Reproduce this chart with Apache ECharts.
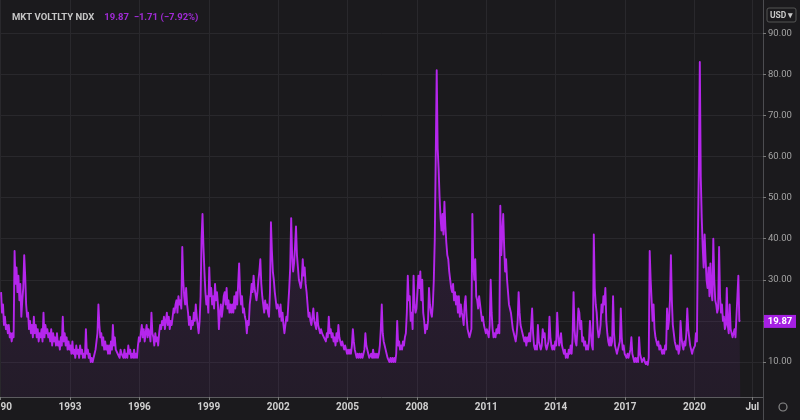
<!DOCTYPE html>
<html><head><meta charset="utf-8">
<script src="https://cdn.jsdelivr.net/npm/echarts@6/dist/echarts.min.js"></script>
<style>html,body{margin:0;padding:0;background:#1b1a1d;}#c{width:800px;height:420px;}</style>
</head><body><div id="c"></div>
<script>
// ---- data (semi-monthly readings, 24 per year) ----
const startYear = 1990;
const pointsPerYear = 24;

const vol1990s = [
  27,22,24,19,21,18,19,17,19,16,17,15,17,16,37,29,33,27,31,25,29,21,25,28, // 1990
  36,31,24,21,22,18,20,17,19,16,21,17,19,16,18,15,17,16,18,15,22,16,19,17, // 1991
  18,16,17,15,18,14,17,15,16,14,17,14,15,13,16,14,21,15,17,14,16,13,15,13, // 1992
  14,12,15,12,13,11,14,12,13,11,14,12,13,11,12,11,18,12,13,11,12,10,11,10, // 1993
  11,12,13,15,17,24,19,16,17,14,16,13,15,13,14,12,14,12,15,13,19,14,16,13, // 1994
  13,12,12,11,13,12,12,11,13,11,12,11,14,12,13,11,12,11,13,11,12,11,14,16, // 1995
  15,17,19,16,18,15,17,19,16,18,17,15,22,17,16,14,17,15,16,14,17,19,18,20, // 1996
  19,21,18,20,22,19,21,18,20,19,21,23,22,24,25,22,26,24,25,23,38,30,26,24, // 1997
  28,24,22,19,21,18,20,19,22,20,24,21,19,17,20,26,40,46,38,32,27,24,26,22, // 1998
  33,26,28,24,26,23,29,25,27,24,18,22,24,21,23,26,27,24,28,23,25,22,24,22  // 1999
];
const vol2000s = [
  24,22,26,23,27,24,29,34,27,24,26,22,23,21,20,17,20,19,24,26,29,27,31,28, // 2000
  28,25,27,30,32,35,29,26,24,22,25,23,24,22,21,27,44,37,32,30,27,25,23,24, // 2001
  23,21,24,20,22,19,17,19,21,20,24,28,33,45,36,32,34,38,43,36,33,30,29,28, // 2002
  30,35,31,33,29,27,24,21,22,20,19,21,23,20,19,18,22,19,19,17,18,17,17,16, // 2003
  16,15,17,16,21,17,18,16,17,15,16,14,17,15,19,16,15,14,15,14,13,14,13,12, // 2004
  13,12,13,12,14,18,15,13,12,11,12,11,12,11,12,11,12,13,17,14,13,12,11,11, // 2005
  12,11,13,11,12,11,12,11,12,14,18,24,17,15,14,13,12,11,11,10,11,10,11,10, // 2006
  11,10,12,20,14,15,13,14,13,15,14,16,17,22,31,25,26,20,22,18,31,24,22,23, // 2007
  27,31,28,32,25,30,22,20,17,19,18,20,28,24,22,21,24,30,40,60,81,62,57,50, // 2008
  45,42,46,41,49,43,39,36,35,32,30,28,27,29,25,27,24,26,22,26,21,24,22,21  // 2009
];
const vol2010s = [
  19,24,26,21,18,17,16,17,18,46,34,30,35,26,25,23,26,24,22,20,21,19,18,17, // 2010
  18,17,16,19,30,22,18,16,17,16,18,17,19,17,48,36,41,46,38,32,35,30,27,24, // 2011
  24,22,20,18,17,16,15,17,20,27,22,19,18,17,16,15,16,14,16,15,17,15,19,23, // 2012
  17,14,13,14,13,19,15,14,13,14,18,16,17,14,13,14,15,21,16,14,13,14,13,15, // 2013
  14,22,17,14,15,17,14,13,12,13,11,12,11,13,12,14,12,16,27,18,15,14,18,23, // 2014
  22,18,20,15,16,14,15,13,14,13,15,20,17,14,13,41,28,24,22,18,16,17,19,24, // 2015
  22,26,24,28,20,17,15,14,16,14,15,26,17,14,13,12,13,14,15,23,16,13,14,12, // 2016
  12,11,12,11,12,13,16,12,11,10,11,10,11,10,16,12,11,10,10,11,10,9.5,10,9.3, // 2017
  11,37,30,25,20,24,18,16,15,14,15,13,14,13,12,13,12,14,13,23,18,20,25,36, // 2018
  25,19,17,15,14,13,14,12,13,20,16,14,13,15,14,17,23,18,16,14,13,12,13,13  // 2019
];
const vol2020s = [
  14,17,15,40,58,83,55,45,38,33,41,35,30,28,33,26,34,27,25,40,30,25,24,22, // 2020
  23,38,26,22,24,20,21,18,19,28,19,17,24,18,17,16,17,18,16,21,26,31,20,19.87 // 2021
];

const xTickYears  = [1990, 1993, 1996, 1999, 2002, 2005, 2008, 2011, 2014, 2017, 2020, 2022.5];
const xTickLabels = ['1990','1993','1996','1999','2002','2005','2008','2011','2014','2017','2020','Jul'];
const yTickValues = [10, 20, 30, 40, 50, 60, 70, 80, 90];

const seriesName = 'MKT VOLTLTY NDX';
const lastValue = 19.87;
const netChange = '−1.71';
const pctChange = '(−7.92%)';
const currency = 'USD';

// ---- build ----
const values = vol1990s.concat(vol2000s, vol2010s, vol2020s);
const seriesData = values.map((v, i) => [startYear + (i + 0.5) / pointsPerYear, v]);

const chart = echarts.init(document.getElementById('c'), null, {renderer: 'canvas'});
const FONT = 'Roboto, "Noto Sans", sans-serif';
const W = 800, H = 420, gridRight = 37, gridBottom = 23;
const axisX = W - gridRight;

chart.setOption({
  backgroundColor: '#1b1a1d',
  animation: false,
  title: {
    left: 7, top: 4,
    text: '{a|' + seriesName + '}  {b|' + lastValue.toFixed(2) + '  ' + netChange + ' ' + pctChange + '}',
    textStyle: {
      rich: {
        a: {color: '#c6c6c6', fontSize: 9.5, fontWeight: 'bold', fontFamily: FONT},
        b: {color: '#a12bd6', fontSize: 9.5, fontFamily: FONT}
      }
    }
  },
  grid: {left: 0, right: gridRight, top: 0, bottom: gridBottom, outerBoundsMode: 'none', containLabel: false},
  xAxis: {
    type: 'value',
    min: 1989.974, max: 2022.961,
    axisLine: {show: true, lineStyle: {color: '#5c5c5f', width: 1}},
    axisTick: {show: true, customValues: xTickYears, length: 3, lineStyle: {color: '#7a7a7a'}},
    axisLabel: {
      customValues: xTickYears,
      formatter: v => { const i = xTickYears.findIndex(t => Math.abs(t - v) < 1e-6); return i >= 0 ? xTickLabels[i] : ''; },
      color: '#cfcfcf', fontSize: 10, fontWeight: 'bold', fontFamily: FONT, margin: 5,
      alignMinLabel: 'center', alignMaxLabel: 'center', hideOverlap: false
    },
    splitLine: {show: true, lineStyle: {color: '#29282c', width: 1}}
  },
  yAxis: {
    type: 'value',
    position: 'right',
    min: 1.48, max: 98.07,
    axisLine: {show: true, lineStyle: {color: '#4c4c50', width: 1}},
    axisTick: {show: true, customValues: yTickValues, length: 3, lineStyle: {color: '#7a7a7a'}},
    axisLabel: {
      customValues: yTickValues,
      formatter: v => v.toFixed(2),
      color: '#a3a3a3', fontSize: 9.5, fontFamily: FONT, margin: 5
    },
    splitLine: {show: true, lineStyle: {color: '#29282c', width: 1}}
  },
  series: [{
    type: 'line',
    data: seriesData,
    showSymbol: false,
    symbol: 'none',
    sampling: null,
    lineStyle: {color: '#b526ec', width: 1.9, join: 'round'},
    areaStyle: {
      origin: 'start',
      color: new echarts.graphic.LinearGradient(0, 0, 0, 1, [
        {offset: 0, color: 'rgba(150,50,200,0.24)'},
        {offset: 1, color: 'rgba(150,50,200,0.10)'}
      ])
    }
  }]
});

// last-price tag placed on the value axis through the library's own scale
const lastPt = chart.convertToPixel({gridIndex: 0}, [seriesData[seriesData.length - 1][0], lastValue]);
chart.setOption({
  graphic: [
    {type: 'line', shape: {x1: axisX + 0.5, y1: H - gridBottom, x2: axisX + 0.5, y2: H}, style: {stroke: '#4c4c50', lineWidth: 1}},
    {type: 'rect', shape: {x: 767, y: 8, width: 29, height: 14, r: 2}, style: {fill: '#1b1a1d', stroke: '#555', lineWidth: 1}},
    {type: 'text', x: 770, y: 11, style: {text: currency + ' ▾', fill: '#c8c8c8', font: 'bold 8.5px Roboto, sans-serif'}},
    {type: 'circle', shape: {cx: 783, cy: 407, r: 4}, style: {fill: 'none', stroke: '#8a8a8a', lineWidth: 1.2}},
    {type: 'rect', z: 100, shape: {x: axisX + 1, y: lastPt[1] - 6.5, width: 32, height: 13}, style: {fill: '#a51fe3'}},
    {type: 'text', z: 101, x: axisX + 17, y: lastPt[1], style: {text: lastValue.toFixed(2), fill: '#ffffff', font: 'bold 9.5px Roboto, sans-serif', align: 'center', verticalAlign: 'middle'}}
  ]
});
</script></body></html>
